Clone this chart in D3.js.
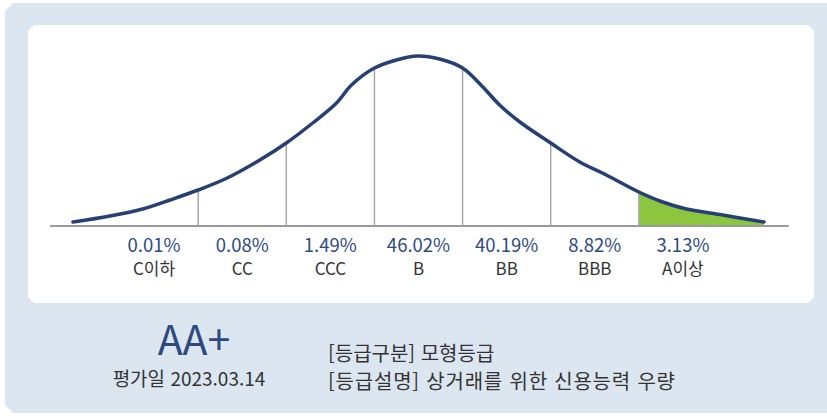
<!DOCTYPE html>
<html lang="ko">
<head>
<meta charset="UTF-8">
<script src="https://d3js.org/d3.v7.min.js"></script>
<style>
  body { margin: 0; background: #fff; }
  svg { display: block; font-family: "Noto Sans CJK KR", "Noto Sans", sans-serif; }
</style>
</head>
<body>
<div id="chart"></div>
<script>
// grade bins (left = worst)
const grades = ["C이하", "CC", "CCC", "B", "BB", "BBB", "A이상"];
const shares = ["0.01%", "0.08%", "1.49%", "46.02%", "40.19%", "8.82%", "3.13%"];
const highlightIndex = 6;  // current grade bin (green)

// distribution curve, x in grade-bin units, y = relative height
const curveX = [-0.42, 0, 0.37, 0.68, 1, 1.33, 1.7, 2, 2.3, 2.57, 2.74, 3, 3.25, 3.49, 3.74, 4, 4.23, 4.42, 4.65, 5, 5.33, 5.63, 6, 6.27, 6.54, 6.95, 7.42];
const curveY = [4, 10, 17, 26, 36, 48, 66, 83, 103, 123, 141, 158, 166, 170, 167, 158, 139, 121, 104, 83, 64, 51, 34, 24, 17, 11, 4];

const grade = "AA+";
const dateText = "평가일 2023.03.14";
const infoLines = ["[등급구분] 모형등급", "[등급설명] 상거래를 위한 신용능력 우량"];

const W = 827, H = 417;
const svg = d3.select("#chart").append("svg").attr("width", W).attr("height", H);

// panel shapes with cut corners
function cutRect(x0, y0, x1, y1, c) {
  return `M${x0 + c},${y0}H${x1 - c}L${x1},${y0 + c}V${y1 - c}L${x1 - c},${y1}H${x0 + c}L${x0},${y1 - c}V${y0 + c}Z`;
}
svg.append("path").attr("d", cutRect(5, 3, 840, 413, 8)).attr("fill", "#dbe6f0");
svg.append("path").attr("d", cutRect(28, 25, 814, 303, 6)).attr("fill", "#ffffff");

const x = d3.scaleLinear().domain([0, grades.length]).range([110, 727]);
const y = d3.scaleLinear().domain([0, 180]).range([226, 46]);

const pts = curveX.map((v, i) => ({ u: v, h: curveY[i] }));
const line = d3.line().x(d => x(d.u)).y(d => y(d.h)).curve(d3.curveCatmullRom.alpha(0.5));
const area = d3.area().x(d => x(d.u)).y0(y(0)).y1(d => y(d.h)).curve(d3.curveCatmullRom.alpha(0.5));

// highlighted bin fill
svg.append("path")
  .datum(pts.filter(d => d.u >= highlightIndex && d.u <= highlightIndex + 1.5))
  .attr("d", area)
  .attr("fill", "#8cc63f");

// baseline
svg.append("line")
  .attr("x1", x(-0.68)).attr("x2", x(7.7))
  .attr("y1", y(0)).attr("y2", y(0))
  .attr("stroke", "#9a9a9a").attr("stroke-width", 2);

// dividers between bins
d3.range(1, grades.length).forEach(k => {
  const p = pts.find(d => Math.abs(d.u - k) < 0.02);
  svg.append("line")
    .attr("x1", x(k)).attr("x2", x(k))
    .attr("y1", y(0)).attr("y2", y(p.h))
    .attr("stroke", "#a8a8a8").attr("stroke-width", 1.5);
});

// curve
svg.append("path").datum(pts).attr("d", line)
  .attr("fill", "none").attr("stroke", "#263f74").attr("stroke-width", 3.5)
  .attr("stroke-linecap", "round");

// labels
const lab = svg.append("g").selectAll("g").data(grades).join("g")
  .attr("transform", (d, i) => `translate(${x(i + 0.5)},0)`);
lab.append("text").attr("y", 252).attr("text-anchor", "middle")
  .attr("font-size", 18.5).attr("fill", "#2e4a82").text((d, i) => shares[i]);
lab.append("text").attr("y", 275).attr("text-anchor", "middle")
  .attr("font-size", 17).attr("fill", "#333").text(d => d);

// bottom summary
svg.append("text").attr("x", 194).attr("y", 355).attr("text-anchor", "middle")
  .attr("font-size", 41).attr("fill", "#2c4a80").text(grade);
svg.append("text").attr("x", 189).attr("y", 386).attr("text-anchor", "middle")
  .attr("font-size", 19).attr("fill", "#333").text(dateText);
svg.selectAll(".info").data(infoLines).join("text")
  .attr("x", 328).attr("y", (d, i) => 361 + i * 28)
  .attr("font-size", 20).attr("textLength", (d, i) => i ? 347 : null)
  .attr("fill", "#333").text(d => d);
</script>
</body>
</html>
